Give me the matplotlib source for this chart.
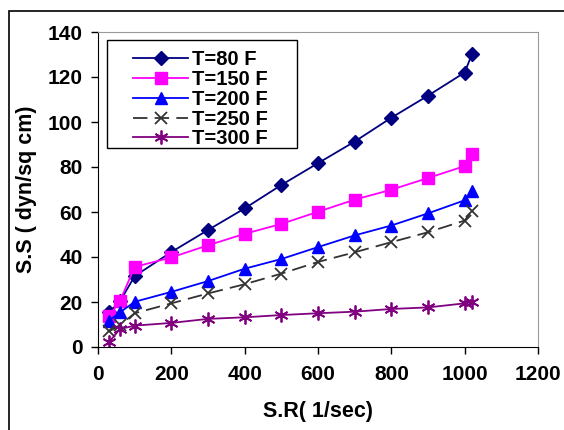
import matplotlib.pyplot as plt
from matplotlib.patches import Rectangle

shear_rate = [30, 60, 100, 200, 300, 400, 500, 600, 700, 800, 900, 1000, 1020]
t80 = [15.4, 20.3, 31.5, 42.2, 52.0, 61.6, 72.0, 81.7, 91.3, 101.9, 111.7, 122.0, 130.2]
t150 = [13.6, 20.5, 35.6, 39.8, 45.2, 50.3, 54.7, 60.1, 65.5, 69.9, 75.1, 80.4, 85.6]
t200 = [11.7, 15.4, 20.1, 24.5, 29.3, 34.8, 39.1, 44.4, 49.6, 54.0, 59.4, 65.2, 69.2]
t250 = [6.9, 9.8, 15.0, 19.4, 23.8, 27.9, 32.6, 37.8, 42.1, 46.6, 51.0, 56.2, 60.6]
t300 = [2.2, 8.0, 9.5, 10.7, 12.5, 13.2, 14.2, 15.0, 15.7, 16.9, 17.6, 19.4, 20.1]
labels = ["T=80 F", "T=150 F", "T=200 F", "T=250 F", "T=300 F"]

plt.rcParams["font.family"] = ["Liberation Sans", "DejaVu Sans"]
plt.rcParams["font.weight"] = "bold"

fig = plt.figure(figsize=(5.64, 4.30), dpi=100)
ax = fig.add_axes([98 / 564, 1 - 347 / 430, 440 / 564, 315 / 430])

ax.plot(shear_rate, t80, color="#000080", marker="D", ms=7, lw=1.3, label=labels[0])
ax.plot(shear_rate, t150, color="#FF00FF", marker="s", ms=8, lw=1.3, label=labels[1])
ax.plot(shear_rate, t200, color="#0000FF", marker="^", ms=9, lw=1.3, label=labels[2])
ax.plot(shear_rate, t250, color="#333333", marker="x", ms=9, mew=1.3, lw=1.3,
        dashes=(8, 4), label=labels[3])
ax.plot(shear_rate, t300, color="#800080", marker=(6, 2, 0), ms=10, mew=1.3, lw=1.3,
        label=labels[4])

ax.set_xlim(0, 1200)
ax.set_ylim(0, 140)
ax.set_xticks(range(0, 1201, 200))
ax.set_yticks(range(0, 141, 20))
ax.tick_params(direction="out", length=5, width=1, labelsize=15)
ax.tick_params(axis="x", pad=8)
ax.tick_params(axis="y", pad=6)

for s in ["top", "right"]:
    ax.spines[s].set_color("#999999")
for s in ["left", "bottom"]:
    ax.spines[s].set_color("black")

ax.set_xlabel("S.R( 1/sec)", fontsize=15.5, fontweight="bold", labelpad=12)
ax.set_ylabel("S.S ( dyn/sq cm)", fontsize=15.5, fontweight="bold", labelpad=8)

# Legende ohne Rahmen, Rahmen separat
leg = ax.legend(loc="upper left", bbox_to_anchor=(35 / 440, 0.942), fontsize=14.5,
                frameon=False, handlelength=2.75, handletextpad=0.2,
                labelspacing=0.04, borderpad=0, borderaxespad=0)
ax.add_patch(Rectangle((9 / 440, 199 / 315), 190 / 440, 108 / 315, transform=ax.transAxes,
                       fill=False, edgecolor="black", lw=1.0, zorder=5))

# Rahmen um das ganze Bild
fig.patches.append(Rectangle((9 / 564, -0.1), 1.2, 1.1 - 11 / 430, transform=fig.transFigure,
                             fill=False, edgecolor="black", lw=1.2))

fig.savefig("out.png", dpi=100)
